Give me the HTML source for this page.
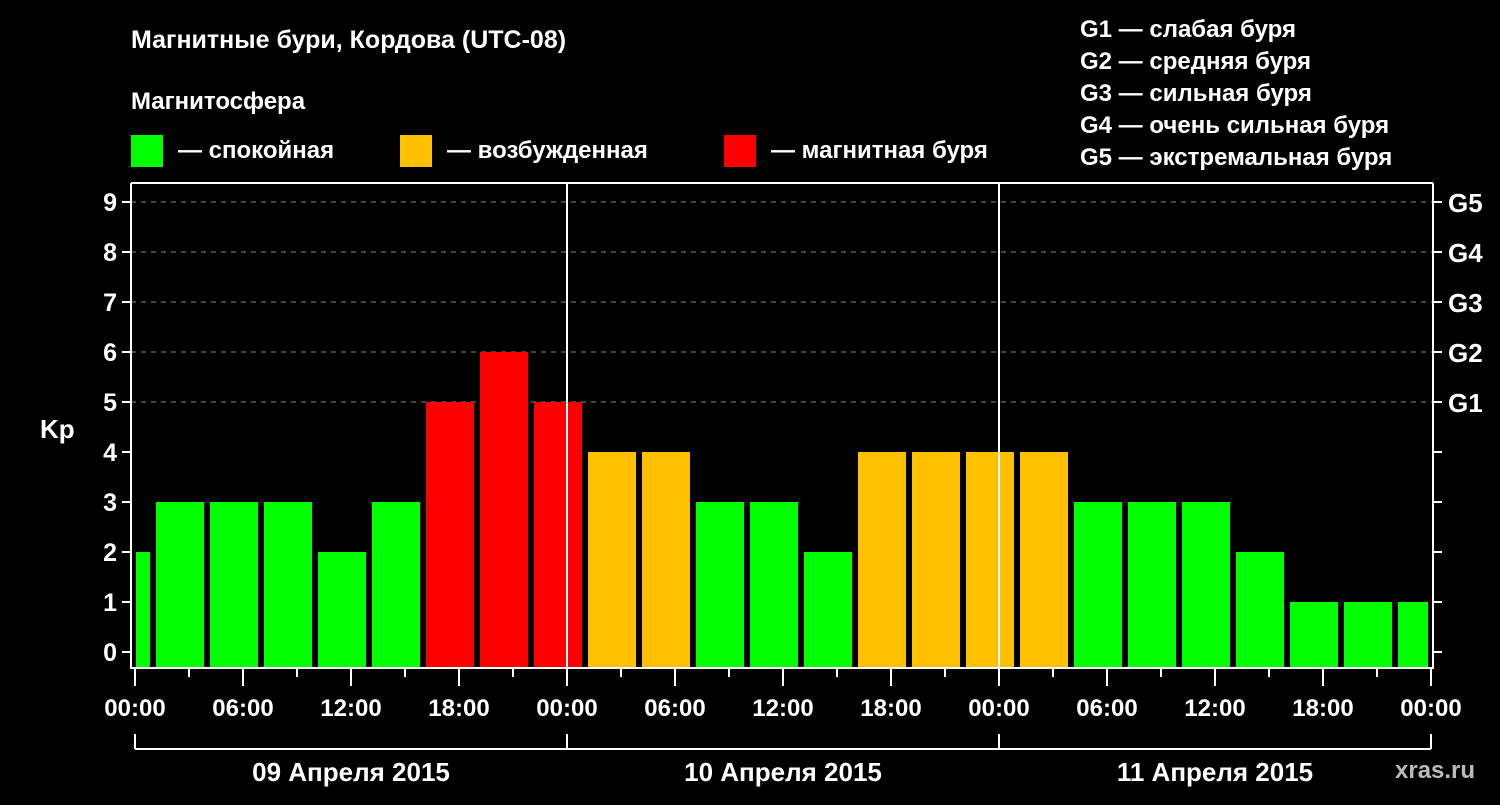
<!DOCTYPE html>
<html><head><meta charset="utf-8"><style>
body{margin:0;background:#000;}
svg text{font-family:"Liberation Sans",sans-serif;font-weight:bold;fill:#fff;}
</style></head><body>
<svg id="c" width="1500" height="800" xmlns="http://www.w3.org/2000/svg">
<rect width="1500" height="800" fill="#000"/>
<text x="131" y="48" font-size="25">Магнитные бури, Кордова (UTC-08)</text>
<text x="131" y="109" font-size="24">Магнитосфера</text>
<g><rect x="131" y="135" width="32" height="32" fill="#00ff00"/><text x="178" y="158" font-size="24">— спокойная</text></g>
<g><rect x="400" y="135" width="32" height="32" fill="#ffc000"/><text x="447" y="158" font-size="24">— возбужденная</text></g>
<g><rect x="724" y="135" width="32" height="32" fill="#ff0000"/><text x="771" y="158" font-size="24">— магнитная буря</text></g>
<g font-size="24">
<text x="1080" y="37">G1 — слабая буря</text>
<text x="1080" y="69">G2 — средняя буря</text>
<text x="1080" y="101">G3 — сильная буря</text>
<text x="1080" y="133">G4 — очень сильная буря</text>
<text x="1080" y="165">G5 — экстремальная буря</text>
</g>
<g id="grid"></g><g id="bars"></g><g id="axes"></g>
<text x="40" y="438" font-size="26">Kp</text>
<text x="1395" y="778" font-size="24" fill="#bbb" style="fill:#bbb">xras.ru</text>
</svg>
<script>
const kpValues=[2,3,3,3,2,3,5,6,5,4,4,3,3,2,4,4,4,4,3,3,3,2,1,1,1];
const yTicks=[0,1,2,3,4,5,6,7,8,9];
const gLabels=["G1","G2","G3","G4","G5"];
const xTickLabels=["00:00","06:00","12:00","18:00","00:00","06:00","12:00","18:00","00:00","06:00","12:00","18:00","00:00"];
const dayLabels=["09 Апреля 2015","10 Апреля 2015","11 Апреля 2015"];
const NS="http://www.w3.org/2000/svg";
const L=131,R=1433,T=183,B=668,X0=135,DAY=432;
const y=v=>652-50*v;
const xh=h=>X0+h*DAY/24;
function mk(p,tag,a){const e=document.createElementNS(NS,tag);for(const k in a)e.setAttribute(k,a[k]);document.getElementById(p).appendChild(e);return e;}
function color(v){return v>=5?"#ff0000":v>=4?"#ffc000":"#00ff00";}
// grid
for(let v=5;v<=9;v++){const e=mk("grid","line",{x1:L,x2:R,y1:y(v),y2:y(v),stroke:"#888","stroke-dasharray":"5,5","stroke-width":1});

}
// bars: slots start at 01:00 minus 3h
kpValues.forEach((v,i)=>{const s=xh(-2+3*i),e2=xh(1+3*i);let x1=Math.max(s+3,L+5),x2=Math.min(e2-3,R-5);
const r=mk("bars","rect",{x:x1,y:y(v),width:x2-x1,height:B-1-y(v),fill:color(v)});

});
// axes
const ax=(a)=>mk("axes","line",Object.assign({stroke:"#fff","stroke-width":2},a));
ax({x1:L,x2:L,y1:T,y2:B});ax({x1:R,x2:R,y1:T,y2:B});ax({x1:L,x2:R,y1:T,y2:T});ax({x1:L-1,x2:R+1,y1:B,y2:B});
ax({x1:xh(24),x2:xh(24),y1:T,y2:B});ax({x1:xh(48),x2:xh(48),y1:T,y2:B});
yTicks.forEach(v=>{ax({x1:L-9,x2:L,y1:y(v),y2:y(v)});ax({x1:R,x2:R+9,y1:y(v),y2:y(v)});
const t=mk("axes","text",{x:L-14,y:y(v)+9,"font-size":25,"text-anchor":"end"});t.textContent=v;

});
gLabels.forEach((g,i)=>{const t=mk("axes","text",{x:1448,y:y(5+i)+10,"font-size":26});t.textContent=g;

});
for(let h=0;h<=72;h+=3){const maj=h%6===0;ax({x1:xh(h),x2:xh(h),y1:B,y2:maj?686:677});}
xTickLabels.forEach((s,i)=>{const t=mk("axes","text",{x:xh(6*i),y:716,"font-size":24,"text-anchor":"middle"});t.textContent=s;

});
ax({x1:xh(0),x2:xh(72),y1:749,y2:749});
for(let d=0;d<=3;d++)ax({x1:xh(24*d),x2:xh(24*d),y1:734,y2:749});
dayLabels.forEach((s,i)=>{const t=mk("axes","text",{x:xh(24*i+12),y:781,"font-size":26,"text-anchor":"middle"});t.textContent=s;

});
</script>
</body></html>
